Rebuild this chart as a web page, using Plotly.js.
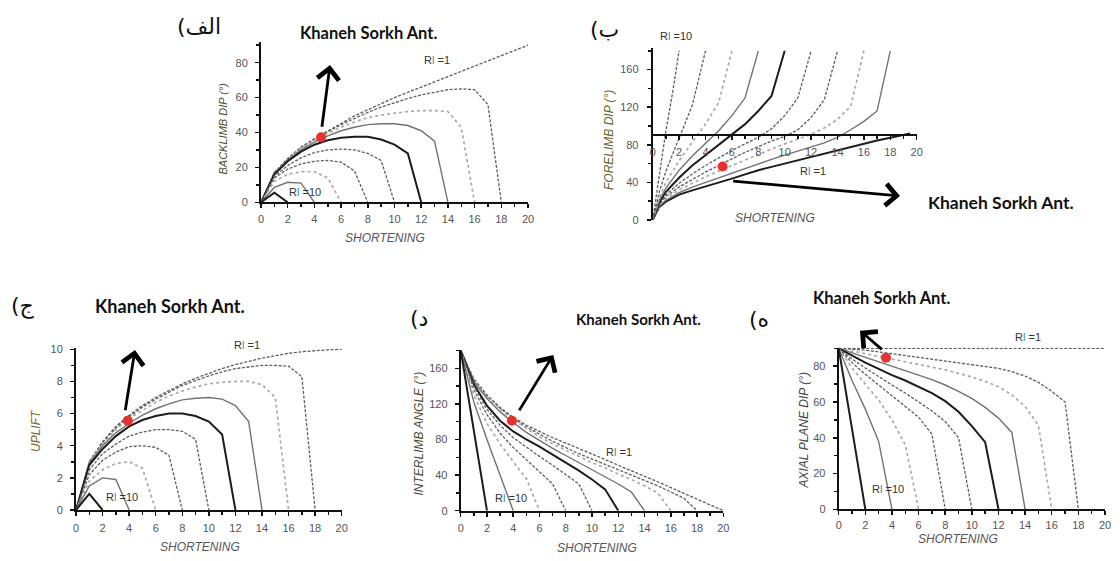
<!DOCTYPE html>
<html><head><meta charset="utf-8">
<script src="https://cdn.plot.ly/plotly-3.0.1.min.js"></script>
<style>html,body{margin:0;padding:0;background:#fff;}#chart{width:1120px;height:561px;}</style>
</head><body><div id="chart"></div>
<script>
// ---------------- DATA ----------------
const shortening = [0,1,2,3,4,5,6,7,8,9,10,11,12,13,14,15,16,17,18,19,20];
const rlLabels = ['Rl =1','Rl =2','Rl =3','Rl =4','Rl =5','Rl =6','Rl =7','Rl =8','Rl =9','Rl =10'];

// (الف) backlimb dip, Rl = 1..10
const backlimbRl1  = [0,17,25,31.5,36.5,41,45.5,49.5,53,56.5,60,63,66,69,72,75,78,81,84,87,90];
const backlimbRl2  = [0,17,25,31.5,36,40.5,44.5,48,51.5,54.5,57,59.5,61.5,63,64.5,65,64.5,56,0];
const backlimbRl3  = [0,17,24.5,31,35.5,39.5,43,46,48.5,50,51,52,52.5,52.5,52,43,0];
const backlimbRl4  = [0,16.5,24,30,34.5,38,41,43,44.5,45,45,44,41,35,0];
const backlimbRl5  = [0,16,23.5,29,33,35.5,37,37.5,37.5,36,33,28,0];
const backlimbRl6  = [0,15,21,25.5,28.5,30,30.5,30,28,24,0];
const backlimbRl7  = [0,14,19,22,23.5,24,23,18,0];
const backlimbRl8  = [0,12,16,17.5,17.5,14,0];
const backlimbRl9  = [0,8.5,11.5,11,0];
const backlimbRl10 = [0,5.5,0];

// (ب) forelimb dip
const foreX1 = [0,0.5,1,2,3,4,5,6,7,8,9,10,11,12,13,14,15,16,17,18,19,19.5];
const foreY1 = [0,14,19.5,27,31.5,35.5,40,44,48.5,53,56.5,60,64,67.5,71,74.5,78,81.5,84.5,87.5,90.5,92];
const foreX2 = [0,0.5,1,2,3,4,5,6,7,8,9,10,11,12,13,14,15,16,17,18];
const foreY2 = [0,15,21,29,35,40,45,50,55,60,64.5,69,73.5,78,82,88,96,105,116,180];
const foreX3 = [0,0.5,1,2,3,4,5,6,7,8,9,10,11,12,13,14,15,16];
const foreY3 = [0,16,23,32,39,46,52,58,64,70,75.5,81,86,91,98,107,121,180];
const foreX4 = [0,0.5,1,2,3,4,5,6,7,8,9,10,11,12,13,14];
const foreY4 = [0,17,25,35,43,51,58,65,72,78,84,89,96,109,128,180];
const foreX5 = [0,0.5,1,2,3,4,5,6,7,8,9,10,11,12];
const foreY5 = [0,18,27,39,49,58,66,74,81,88,97,111,130,180];
const foreX6 = [0,0.5,1,2,3,4,5,6,7,8,9,10];
const foreY6 = [0,19,30,45,58,69,80,90,102,116,132,180];
const foreX7 = [0,0.5,1,2,3,4,5,6,7,8];
const foreY7 = [0,21,34,53,68,82,95,111,130,180];
const foreX8 = [0,0.5,1,2,3,4,5,6];
const foreY8 = [0,24,40,63,83,102,125,180];
const foreX9 = [0,0.5,1,2,3,4];
const foreY9 = [0,30,52,88,122,180];
const foreX10 = [0,0.5,1,1.5,2];
const foreY10 = [0,50,95,135,180];

// (ج) uplift
const upliftRl1  = [0,3,4.25,5.2,5.9,6.5,7,7.45,7.85,8.2,8.5,8.8,9.05,9.25,9.45,9.6,9.75,9.85,9.93,9.97,10];
const upliftRl2  = [0,3,4.2,5.1,5.8,6.4,6.9,7.35,7.75,8.05,8.35,8.6,8.8,8.9,9,9,8.95,8.3,0];
const upliftRl3  = [0,3,4.1,5,5.7,6.2,6.7,7.1,7.4,7.65,7.85,7.95,8,8,7.8,7,0];
const upliftRl4  = [0,2.9,4,4.8,5.4,5.9,6.3,6.6,6.85,6.95,7,6.9,6.5,5.5,0];
const upliftRl5  = [0,2.8,3.8,4.6,5.2,5.6,5.85,6,6,5.85,5.5,4.7,0];
const upliftRl6  = [0,2.5,3.5,4.1,4.6,4.85,5,5,4.9,4.4,0];
const upliftRl7  = [0,2.2,3.1,3.6,3.95,4,3.9,3.4,0];
const upliftRl8  = [0,1.8,2.5,2.9,3,2.6,0];
const upliftRl9  = [0,1.5,2,1.9,0];
const upliftRl10 = [0,1,0];

// (د) interlimb angle
const interRl1  = [180,148,130,116,105,96,89,82,76,70,64,57.5,51,45,39,32.5,26,19.5,13,6.5,0];
const interRl2  = [180,147,129,115,104,94,86,78,71,64,58,52,46,40,34,28,21,14,0];
const interRl3  = [180,146,128,114,102,92,83,75,68,61,54,48,41,35,28,20,0];
const interRl4  = [180,145,126,111,99,88,79,70,62,54,46,38,30,21,0];
const interRl5  = [180,142,118,101,89,80,72,63,54,45,35,24,0];
const interRl6  = [180,140,114,96,82,71,61,51,41,30,0];
const interRl7  = [180,136,108,87,71,57,44,30,0];
const interRl8  = [180,130,98,75,55,36,0];
const interRl9  = [180,122,80,40,0];
const interRl10 = [180,91,0];

// (ه) axial plane dip
const axialRl1  = [90,90,90,90,90,90,90,90,90,90,90,90,90,90,90,90,90,90,90,90,90];
const axialRl2  = [90,89.5,89,88,87,86,85,84,83,82,81,80,78.8,77,74.5,71,66,60,0];
const axialRl3  = [90,88.5,87,85.5,84,82.5,81,79.5,78,76,74,71.5,68.5,64,57.5,47,0];
const axialRl4  = [90,87.5,85,82.5,80,77.5,75,72.5,69.5,66,62,57,51,43,0];
const axialRl5  = [90,86,82,78.5,75,72,68.5,65,60.5,54.5,46.5,37.5,0];
const axialRl6  = [90,84,79,74,69.5,65,60,55,49,40,0];
const axialRl7  = [90,82,75.5,69.5,64,58,51.5,42,0];
const axialRl8  = [90,79,70,61,50,36,0];
const axialRl9  = [90,72,56,38,0];
const axialRl10 = [90,46,0];

// Khaneh Sorkh anticline point in each panel (الف, ب, ج, د, ه)
const antShortening = [4.5, 5.3, 3.9, 3.9, 3.55];
const antValue      = [37.2, 57, 5.56, 101, 84.7];

const panelLetters = ['الف', 'ب', 'ج', 'د', 'ه'];
const yTitles = ['BACKLIMB DIP (°)', 'FORELIMB DIP (°)', 'UPLIFT', 'INTERLIMB ANGLE (°)', 'AXIAL PLANE DIP (°)'];
const xTitle = 'SHORTENING';
const antName = 'Khaneh Sorkh Ant.';

// ---------------- STYLES / LAYOUT ----------------
const W = 1120, H = 561;
const px = v => v / W;
const py = v => 1 - v / H;

const ST = {
  black: {color:'#1c1c1c', width:2},
  gray:  {color:'#727272', width:1.4},
  dot:   {color:'#a9a9a9', width:1.7, dash:'dot'},
  dash:  {color:'#5e5e5e', width:1.3, dash:'3px,1.6px'}
};
const styleStd = ['dash','dash','dot','gray','black','dash','dash','dot','gray','black'];
const styleFore = ['black','gray','dot','dash','dash','black','gray','dot','dash','dash'];

const std = ys => ys.map(y => ({x: shortening.slice(0, y.length), y}));
const panels = [
  {ax:'', x0:261, x1:528, yb:202.3, yt:41.7, yr:[0,92], dt:20, mn:10,
   curves: std([backlimbRl1,backlimbRl2,backlimbRl3,backlimbRl4,backlimbRl5,backlimbRl6,backlimbRl7,backlimbRl8,backlimbRl9,backlimbRl10]),
   styles: styleStd, xso:1, yso:5},
  {ax:'2', x0:652.7, x1:916.7, yb:220, yt:48, yr:[0,183], dt:40, mn:20, xAt:90,
   curves: [[foreX1,foreY1],[foreX2,foreY2],[foreX3,foreY3],[foreX4,foreY4],[foreX5,foreY5],[foreX6,foreY6],[foreX7,foreY7],[foreX8,foreY8],[foreX9,foreY9],[foreX10,foreY10]].map(p=>({x:p[0],y:p[1]})),
   styles: styleFore, xso:2, yso:6},
  {ax:'3', x0:76, x1:341.7, yb:510, yt:347.7, yr:[0,10.1], dt:2, mn:1,
   curves: std([upliftRl1,upliftRl2,upliftRl3,upliftRl4,upliftRl5,upliftRl6,upliftRl7,upliftRl8,upliftRl9,upliftRl10]),
   styles: styleStd, xso:3, yso:5},
  {ax:'4', x0:460.7, x1:723.3, yb:510.7, yt:350, yr:[0,180.5], dt:40, mn:20,
   curves: std([interRl1,interRl2,interRl3,interRl4,interRl5,interRl6,interRl7,interRl8,interRl9,interRl10]),
   styles: styleStd, xso:2, yso:5},
  {ax:'5', x0:838.7, x1:1105, yb:509.3, yt:347.8, yr:[0,90.3], dt:20, mn:10,
   curves: std([axialRl1,axialRl2,axialRl3,axialRl4,axialRl5,axialRl6,axialRl7,axialRl8,axialRl9,axialRl10]),
   styles: styleStd, xso:0, yso:5}
];

const tickFont = {family:'Liberation Sans, Arial, sans-serif', size:11, color:'#555'};
const data = [];
const layout = {
  width:W, height:H, margin:{l:0,r:0,t:0,b:0},
  paper_bgcolor:'#fff', plot_bgcolor:'rgba(0,0,0,0)', showlegend:false,
  annotations:[], font:{family:'Liberation Sans, Arial, sans-serif'}
};

panels.forEach((p, i) => {
  const xa = 'x' + p.ax, ya = 'y' + p.ax;
  p.curves.forEach((c, k) => {
    data.push({type:'scatter', mode:'lines', x:c.x, y:c.y, xaxis:xa, yaxis:ya,
      name: rlLabels[k], line: Object.assign({shape:'linear'}, ST[p.styles[k]]),
      hoverinfo:'skip', cliponaxis:false});
  });
  data.push({type:'scatter', mode:'markers', x:[antShortening[i]], y:[antValue[i]],
    xaxis:xa, yaxis:ya, name:antName, marker:{color:'#e8312c', size:10}, cliponaxis:false, hoverinfo:'skip'});

  const xKey = 'xaxis' + p.ax, yKey = 'yaxis' + p.ax;
  const common = {showgrid:false, zeroline:false, showline:true, linecolor:'#111', linewidth:2,
    ticks:'outside', ticklen:4, tickwidth:1.5, tickcolor:'#111', tickfont:tickFont, fixedrange:true};
  const xaxis = Object.assign({}, common, {domain:[px(p.x0), px(p.x1)], range:[0,20], tick0:0, dtick:2,
    minor:{dtick:1, ticks:'outside', ticklen:3, tickwidth:1.5, tickcolor:'#111'}, ticklabelstandoff:p.xso});
  const yaxis = Object.assign({}, common, {domain:[py(p.yb), py(p.yt)], range:p.yr, tick0:0, dtick:p.dt,
    minor:{dtick:p.mn, ticks:'outside', ticklen:3, tickwidth:1.5, tickcolor:'#111'}, ticklabelstandoff:p.yso,
    anchor:'x' + p.ax});
  if (p.xAt !== undefined) {
    const yPix = p.yb - (p.xAt - p.yr[0]) / (p.yr[1] - p.yr[0]) * (p.yb - p.yt);
    xaxis.anchor = 'free'; xaxis.position = py(yPix);
  } else {
    xaxis.anchor = 'y' + p.ax;
  }
  layout[xKey] = xaxis; layout[yKey] = yaxis;
});

// ---------------- TEXT ----------------
const A = layout.annotations;
function txt(t, x, y, o) {
  A.push(Object.assign({text:t, x:px(x), y:py(y), xref:'paper', yref:'paper', showarrow:false,
    xanchor:'center', yanchor:'middle'}, o || {}));
}
const xtFont = {family:'Liberation Sans, Arial, sans-serif', size:12, color:'#555', style:'italic'};
const ytFont = (c, s) => ({family:'Liberation Sans, Arial, sans-serif', size:s, color:c, style:'italic'});

// axis titles
txt(xTitle, 385, 238, {font:xtFont});
txt(xTitle, 775, 218, {font:xtFont});
txt(xTitle, 200, 546.5, {font:xtFont});
txt(xTitle, 597, 548, {font:xtFont});
txt(xTitle, 958, 538.5, {font:xtFont});
txt(yTitles[0], 222.5, 129, {font:ytFont('#4f4b2c', 11), textangle:-90});
txt(yTitles[1], 609, 140, {font:ytFont('#6a6528', 12), textangle:-90});
txt(yTitles[2], 36, 431, {font:ytFont('#7a6a26', 12), textangle:-90});
txt(yTitles[3], 418.5, 434, {font:ytFont('#4f4b2c', 12), textangle:-90});
txt(yTitles[4], 803.5, 430, {font:ytFont('#444', 12), textangle:-90});

// panel letters: an LRM first keeps the paren on the left
const letFont = {family:'DejaVu Sans, sans-serif', size:22, color:'#111'};
const letter = s => '\u200E(' + s;
txt(letter(panelLetters[0]), 199, 27, {font:letFont});
txt(letter(panelLetters[1]), 604, 29, {font:letFont});
txt(letter(panelLetters[2]), 23, 306, {font:letFont});
txt(letter(panelLetters[3]), 419, 318, {font:letFont});
txt(letter(panelLetters[4]), 759, 319, {font:letFont});

// Khaneh Sorkh labels
const kf = s => ({family:'Lato, Open Sans, sans-serif', size:s, color:'#111', weight:'bold'});
txt(antName, 368, 33, {font:kf(16.5)});
txt(antName, 1001, 203, {font:kf(17.5)});
txt(antName, 170, 306, {font:kf(18)});
txt(antName, 638, 319, {font:kf(15)});
txt(antName, 881, 298, {font:kf(16.5)});

// Rl labels
const rl = t => t.replace('Rl', 'R<span style="color:#3d8f95">l</span>');
const rlFont = {family:'Liberation Sans, Arial, sans-serif', size:11, color:'#333'};
txt(rl(rlLabels[0]), 437, 60, {font:rlFont});
txt(rl(rlLabels[9]), 305, 192, {font:rlFont});
txt(rl(rlLabels[9]), 676, 36, {font:rlFont});
txt(rl(rlLabels[0]), 813, 171, {font:rlFont});
txt(rl(rlLabels[0]), 247, 345, {font:rlFont});
txt(rl(rlLabels[9]), 122, 497, {font:rlFont});
txt(rl(rlLabels[0]), 619, 452, {font:rlFont});
txt(rl(rlLabels[9]), 511, 498, {font:rlFont});
txt(rl(rlLabels[0]), 1028, 337, {font:rlFont});
txt(rl(rlLabels[9]), 888, 489, {font:rlFont});

// arrows (data units of each panel): head, tail
const arrows = [
  {ax:'',  hx:5.17, hy:78.6, tx:4.55, ty:42.4},
  {ax:'2', hx:18.73, hy:25.5, tx:5.98, ty:41.5},
  {ax:'3', hx:4.44, hy:9.96, tx:3.69, ty:6.12},
  {ax:'4', hx:7.05, hy:175, tx:4.39, ty:111},
  {ax:'5', hx:1.6, hy:99.9, tx:3.35, ty:88.7}
];
arrows.forEach(a => {
  A.push({text:'', xref:'x'+a.ax, yref:'y'+a.ax, axref:'x'+a.ax, ayref:'y'+a.ax,
    x:a.hx, y:a.hy, ax:a.tx, ay:a.ty, showarrow:true, arrowhead:4, arrowsize:1.5,
    arrowwidth:2.8, arrowcolor:'#000', standoff:0, startstandoff:0});
});

Plotly.newPlot('chart', data, layout, {staticPlot:true, displayModeBar:false});
</script></body></html>
